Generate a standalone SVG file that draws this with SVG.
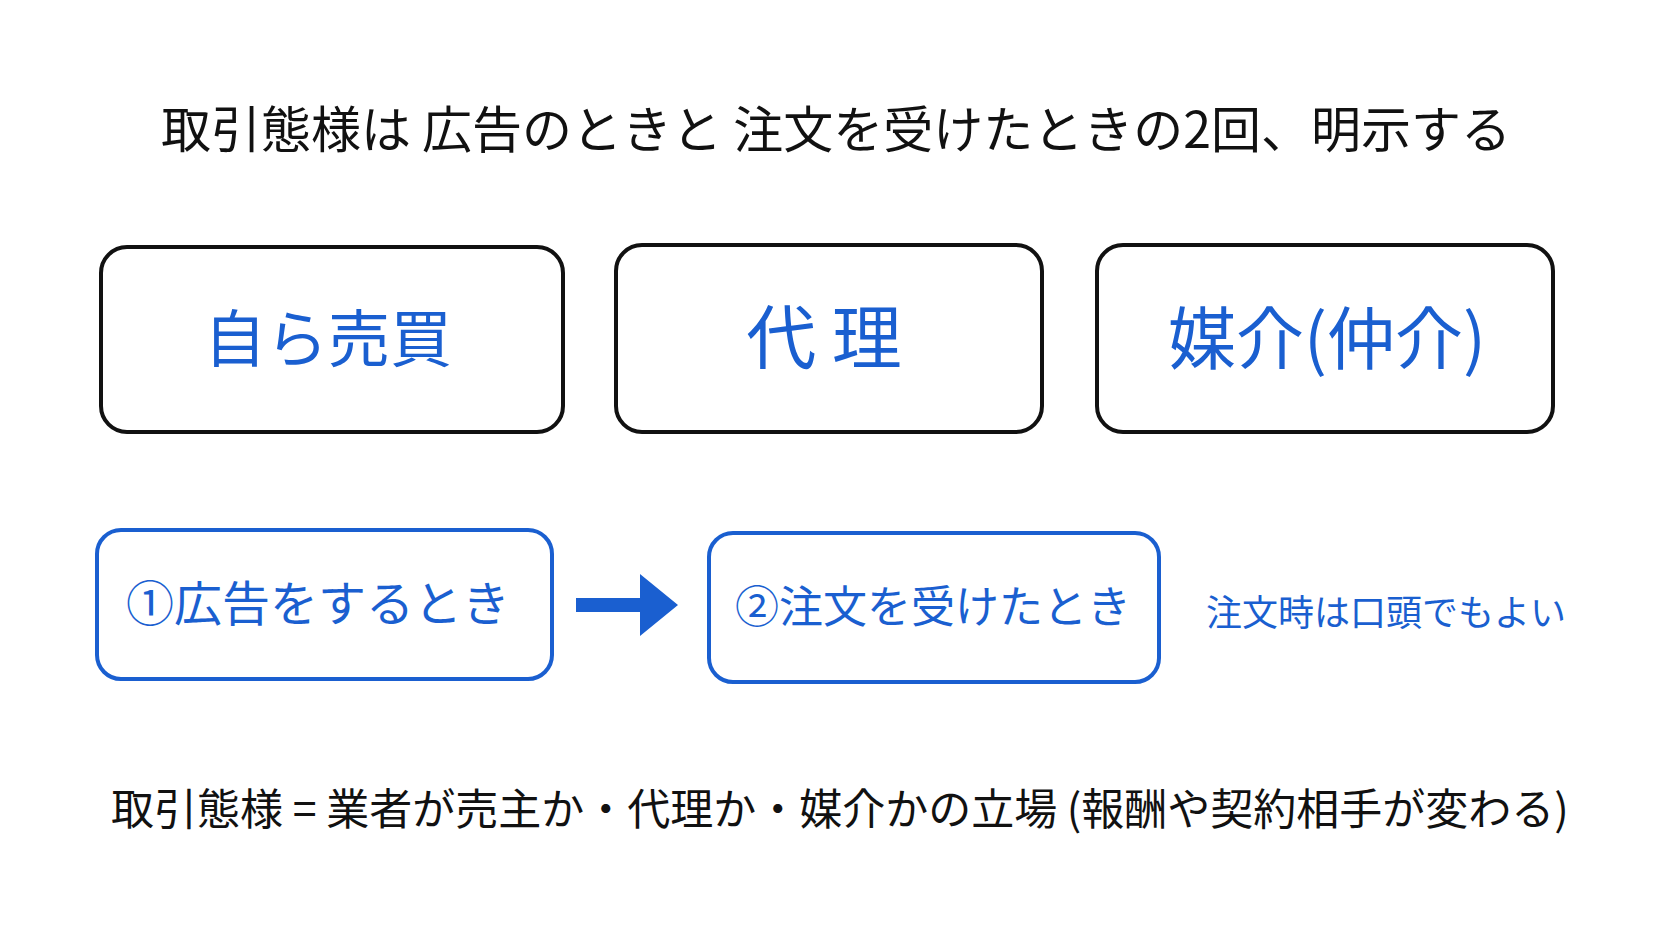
<svg xmlns="http://www.w3.org/2000/svg" width="1672" height="941" viewBox="0 0 1672 941">
<style>
.t{font-family:"Noto Sans CJK JP","Noto Sans CJK SC",sans-serif;}
.blk{fill:#111;}
.blu{fill:#1a5fd0;}
.bx{fill:#fff;stroke:#111;stroke-width:4;}
.bb{fill:#fff;stroke:#1a5fd0;stroke-width:4;}
</style>
<rect width="1672" height="941" fill="#fff"/>
<g id="title"><text class="t blk" x="836" y="148" font-size="50" text-anchor="middle">取引態様は 広告のときと 注文を受けたときの2回、明示する</text></g>
<g id="n1"><rect class="bx" x="101" y="247" width="462" height="185" rx="26"/><text class="t blu" x="328" y="362" font-size="62" text-anchor="middle">自ら売買</text></g>
<g id="n2"><rect class="bx" x="616" y="245" width="426" height="187" rx="26"/><text class="t blu" x="824" y="364" font-size="70" text-anchor="middle">代 理</text></g>
<g id="n3"><rect class="bx" x="1097" y="245" width="456" height="187" rx="26"/><text class="t blu" x="1327" y="364" font-size="68" text-anchor="middle">媒介(仲介)</text></g>
<g id="n4"><rect class="bb" x="97" y="530" width="455" height="149" rx="24"/><text class="t blu" x="318" y="621" font-size="48" text-anchor="middle">①広告をするとき</text></g>
<g id="n5"><rect class="bb" x="709" y="533" width="450" height="149" rx="24"/><text class="t blu" x="933" y="623" font-size="44" text-anchor="middle">②注文を受けたとき</text></g>
<g id="connectors"><path d="M576 598 H640 V574 L678 605 L640 636 V612 H576 Z" fill="#1a5fd0"/></g>
<g id="note"><text class="t blu" x="1386" y="626" font-size="36" text-anchor="middle">注文時は口頭でもよい</text></g>
<g id="foot"><text class="t blk" x="840" y="825" font-size="43" text-anchor="middle">取引態様 = 業者が売主か・代理か・媒介かの立場 (報酬や契約相手が変わる)</text></g>
</svg>
